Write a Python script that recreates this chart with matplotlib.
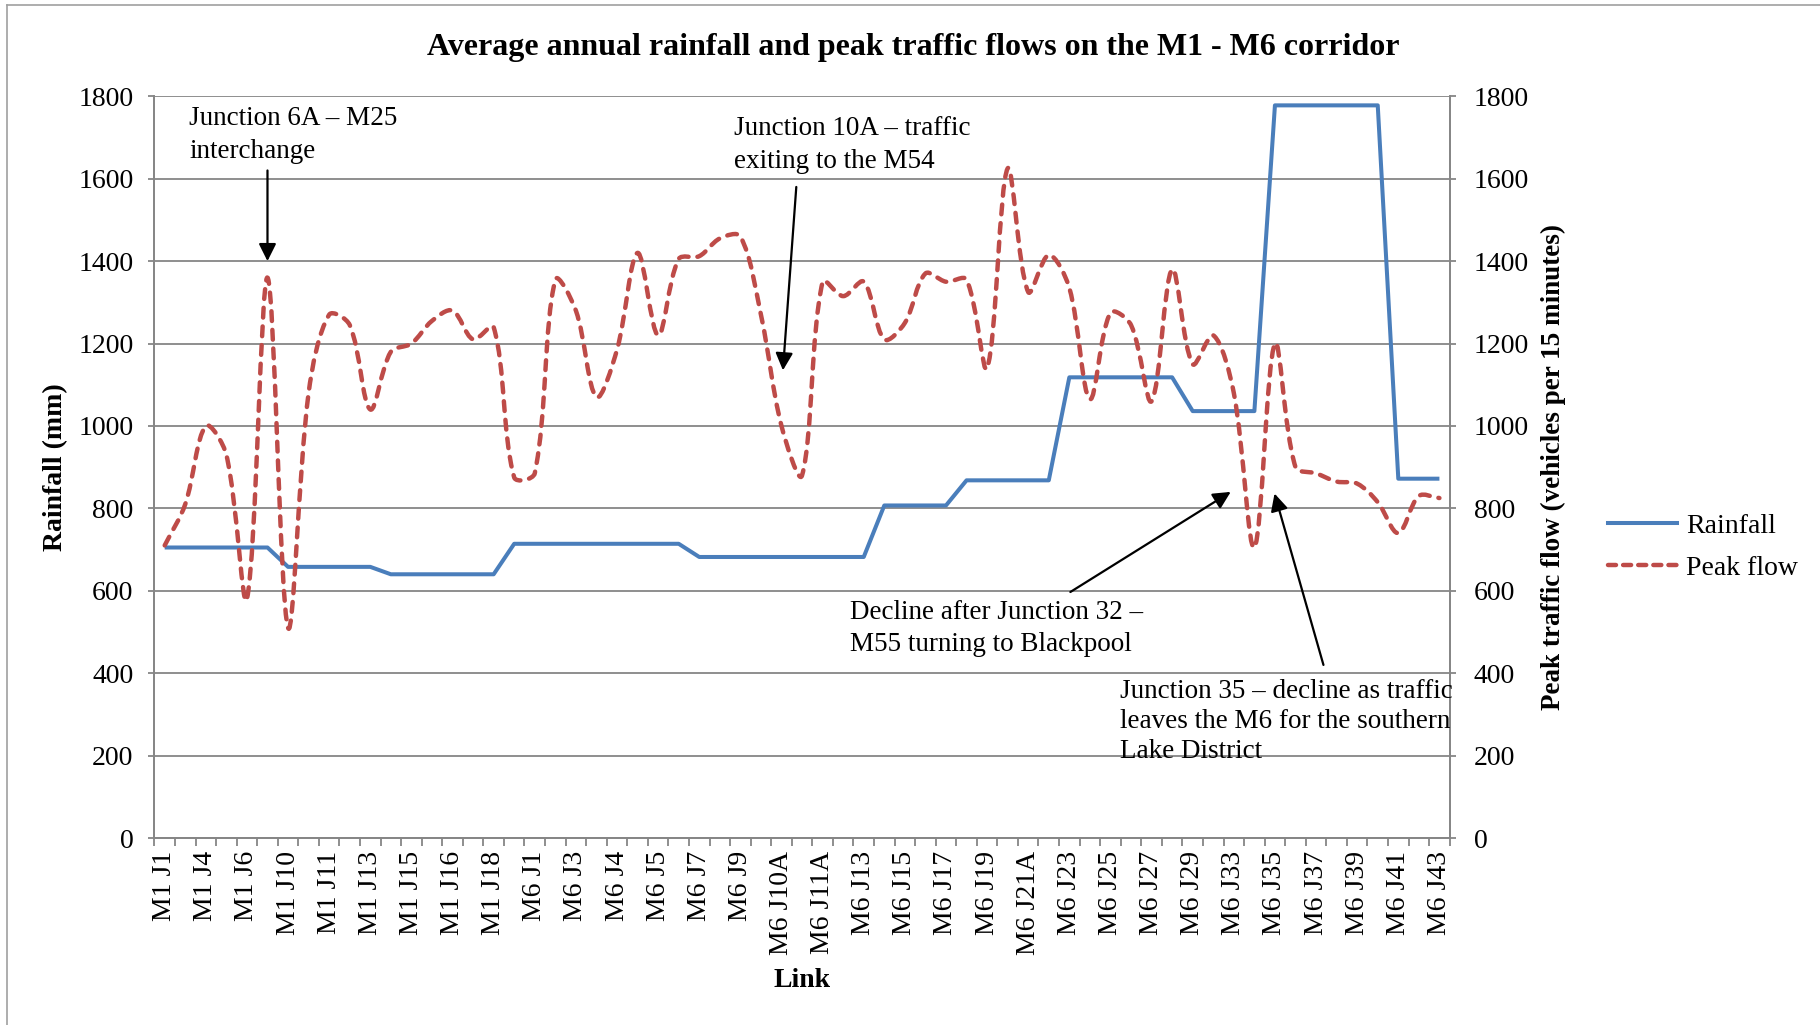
import numpy as np
import matplotlib
matplotlib.use('Agg')
import matplotlib.pyplot as plt
from matplotlib.path import Path
from matplotlib.patches import PathPatch
from matplotlib.lines import Line2D

plt.rcParams['font.family'] = ['Liberation Serif', 'DejaVu Serif']

# ---------------- data ----------------
links = [
    "M1 J1", "M1 J2", "M1 J4", "M1 J5", "M1 J6", "M1 J6A", "M1 J10", "M1 J10A",
    "M1 J11", "M1 J12", "M1 J13", "M1 J14", "M1 J15", "M1 J15A", "M1 J16", "M1 J17",
    "M1 J18", "M1 J19", "M6 J1", "M6 J2", "M6 J3", "M6 J3A", "M6 J4", "M6 J4A",
    "M6 J5", "M6 J6", "M6 J7", "M6 J8", "M6 J9", "M6 J10", "M6 J10A", "M6 J11",
    "M6 J11A", "M6 J12", "M6 J13", "M6 J14", "M6 J15", "M6 J16", "M6 J17", "M6 J18",
    "M6 J19", "M6 J20", "M6 J21A", "M6 J22", "M6 J23", "M6 J24", "M6 J25", "M6 J26",
    "M6 J27", "M6 J28", "M6 J29", "M6 J32", "M6 J33", "M6 J34", "M6 J35", "M6 J36",
    "M6 J37", "M6 J38", "M6 J39", "M6 J40", "M6 J41", "M6 J42", "M6 J43",
]

rainfall = [
    705, 705, 705, 705, 705, 705, 658, 658, 658, 658, 658, 640, 640, 640, 640, 640,
    640, 714, 714, 714, 714, 714, 714, 714, 714, 714, 682, 682, 682, 682, 682, 682,
    682, 682, 682, 807, 807, 807, 807, 868, 868, 868, 868, 868, 1118, 1118, 1118, 1118,
    1118, 1118, 1036, 1036, 1036, 1036, 1778, 1778, 1778, 1778, 1778, 1778, 872, 872, 872,
]

peak_flow = [
    710, 810, 1000, 930, 580, 1360, 510, 1080, 1270, 1245, 1040, 1180, 1200, 1255, 1280, 1210,
    1240, 875, 885, 1355, 1280, 1070, 1185, 1420, 1220, 1405, 1412, 1455, 1460, 1270, 1000, 880,
    1350, 1315, 1350, 1210, 1250, 1370, 1350, 1355, 1140, 1625, 1325, 1415, 1335, 1065, 1275, 1245,
    1060, 1380, 1150, 1220, 1080, 705, 1200, 900, 885, 865, 860, 815, 740, 830, 825,
]

y_ticks = [0, 200, 400, 600, 800, 1000, 1200, 1400, 1600, 1800]

title = "Average annual rainfall and peak traffic flows on the M1 - M6 corridor"
series_names = ["Rainfall", "Peak flow"]

# ---------------- style ----------------
BLUE = "#4A7EBB"
RED = "#BE4B48"
GRAY = "#868686"
FS = 20
AFS = 19.5

W, H = 1820, 1025
fig = plt.figure(figsize=(W / 100, H / 100), dpi=100)
L, R, T, B = 154.4, 1449.7, 96.3, 838.0
ax = fig.add_axes([L / W, 1 - B / H, (R - L) / W, (B - T) / H])
ax2 = ax.twinx()

n = len(links)
x = np.arange(n)

ax.plot(x, rainfall, color=BLUE, lw=2.9, solid_joinstyle='round', solid_capstyle='butt', zorder=3)

# smooth (Excel-like) Bezier curve through the peak-flow points
sx = (R - L) / n          # pixels per category
sy = (B - T) / 1800.0     # pixels per unit
pts = np.column_stack([x, np.asarray(peak_flow, dtype=float)])


def dist(a, b):
    return np.hypot((b[0] - a[0]) * sx, (b[1] - a[1]) * sy)


verts = [pts[0]]
codes = [Path.MOVETO]
for i in range(n - 1):
    p0 = pts[max(i - 1, 0)]
    p1 = pts[i]
    p2 = pts[i + 1]
    p3 = pts[min(i + 2, n - 1)]
    d01, d12, d23 = dist(p0, p1), dist(p1, p2), dist(p2, p3)
    f1 = d12 / (d01 + d12) / 3.0
    f2 = d12 / (d12 + d23) / 3.0
    c1 = p1 + (p2 - p0) * f1
    c2 = p2 - (p3 - p1) * f2
    verts += [c1, c2, p2]
    codes += [Path.CURVE4] * 3
patch = PathPatch(Path(verts, codes), fill=False, edgecolor=RED, lw=3.2,
                  linestyle=(0, (2.2, 2.0)), capstyle='round', joinstyle='round', zorder=4)
ax2.add_patch(patch)

for a in (ax, ax2):
    a.set_xlim(-0.5, n - 0.5)
    a.set_ylim(0, 1800)
    a.set_yticks(y_ticks)
    a.spines['top'].set_visible(False)
    for s in ('left', 'right', 'bottom'):
        a.spines[s].set_color(GRAY)
        a.spines[s].set_linewidth(1.3)

ax.set_xticks(x[::2])
ax.set_xticklabels(links[::2], rotation=90, fontsize=FS)
ax.set_xticks(np.arange(-0.5, n, 1), minor=True)
ax.tick_params(axis='x', which='major', length=0, pad=9.4)
ax.tick_params(axis='x', which='minor', length=5.8, width=1.3, color=GRAY, direction='out')
ax.tick_params(axis='y', length=4.3, width=1.3, color=GRAY, pad=10.8, labelsize=FS)
ax2.tick_params(axis='y', length=4.3, width=1.3, color=GRAY, pad=13, labelsize=FS)

ax.yaxis.grid(True, color=GRAY, lw=1.3)
ax.set_axisbelow(True)


# annotations
def arrow(tip, start):
    ax2.annotate('', xy=tip, xytext=start,
                 arrowprops=dict(arrowstyle='-|>,head_length=0.75,head_width=0.375',
                                 color='black', lw=1.6, mutation_scale=14,
                                 shrinkA=0, shrinkB=0), zorder=6)


ax2.text(1.2, 1707, "Junction 6A \u2013 M25\ninterchange", ha='left', va='center',
         fontsize=AFS, linespacing=1.42, zorder=6)
arrow((5, 1400), (5, 1620))

ax2.text(27.68, 1682, "Junction 10A \u2013 traffic\nexiting to the M54", ha='left', va='center',
         fontsize=AFS, linespacing=1.42, zorder=6)
arrow((30.07, 1135), (30.72, 1580))

ax2.text(33.32, 508, "Decline after Junction 32 \u2013\nM55 turning to Blackpool", ha='left', va='center',
         fontsize=AFS, linespacing=1.36, zorder=6)
arrow((51.85, 840), (44.05, 597))

ax2.text(46.48, 283, "Junction 35 \u2013 decline as traffic\nleaves the M6 for the southern\nLake District",
         ha='left', va='center', fontsize=AFS, linespacing=1.27, zorder=6)
arrow((53.98, 836), (56.36, 420))

# titles / labels
fig.text(913 / W, 1 - 48 / H, title, ha='center', va='center', fontsize=23, fontweight='bold')
fig.text(802 / W, 1 - 980.5 / H, "Link", ha='center', va='center', fontsize=FS, fontweight='bold')
fig.text(55.7 / W, 1 - 467 / H, "Rainfall (mm)", ha='center', va='center', rotation=90,
         fontsize=FS, fontweight='bold')
fig.text(1553 / W, 1 - 467 / H, "Peak traffic flow (vehicles per 15 minutes)", ha='center', va='center',
         rotation=90, fontsize=19.5, fontweight='bold')

# legend
handles = [Line2D([], [], color=BLUE, lw=2.9),
           Line2D([], [], color=RED, lw=3.2, linestyle=(0, (1.8, 1.6)), dash_capstyle='round')]
ax2.legend(handles, series_names, loc='center left', bbox_to_anchor=(1608 / W, 1 - 547 / H),
           bbox_transform=fig.transFigure, frameon=False, borderpad=0, borderaxespad=0,
           handlelength=2.5, handletextpad=0.3, labelspacing=0.6, fontsize=FS)

# chart-area border
fig.add_artist(Line2D([7 / W, 7 / W], [0, 1 - 4.6 / H], transform=fig.transFigure, color='#A0A0A0', lw=1.2))
fig.add_artist(Line2D([7 / W, 1], [1 - 4.6 / H, 1 - 4.6 / H], transform=fig.transFigure, color='#A0A0A0', lw=1.2))

fig.savefig('out.png', dpi=100)
